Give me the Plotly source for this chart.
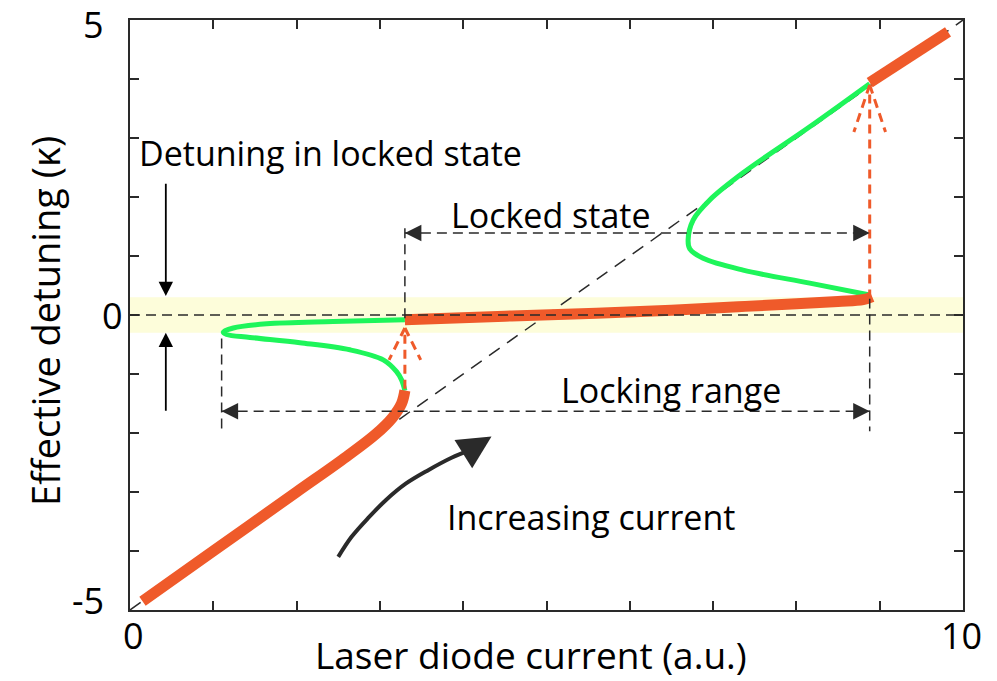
import plotly.graph_objects as go

# ---- data (laser diode current in a.u., effective detuning in units of kappa) ----
# free-running branch below the locking range
lower_x = [0.15, 1.00, 2.00, 2.60, 2.95, 3.15, 3.26, 3.30]
lower_y = [-4.85, -4.00, -3.00, -2.40, -2.02, -1.74, -1.50, -1.28]

# unstable / unlocked branch near the lower edge
green_low_x = [3.30, 3.26, 3.20, 3.04, 2.64, 2.04, 1.44, 1.16, 1.12, 1.24, 1.64, 2.44, 3.30]
green_low_y = [-1.28, -1.10, -0.96, -0.76, -0.59, -0.47, -0.38, -0.33, -0.29, -0.22, -0.15, -0.11, -0.08]

# locked branch
locked_x = [3.30, 4.50, 5.60, 6.50, 7.30, 8.00, 8.50, 8.80, 8.91]
locked_y = [-0.08, -0.02, 0.03, 0.08, 0.14, 0.19, 0.23, 0.26, 0.31]

# unstable / unlocked branch near the upper edge
green_up_x = [8.88, 8.16, 7.36, 6.88, 6.72, 6.70, 6.76, 6.96, 7.36, 8.16, 8.88]
green_up_y = [0.34, 0.54, 0.76, 0.96, 1.12, 1.27, 1.61, 1.95, 2.41, 3.19, 3.92]

# free-running branch above the locking range
upper_x = [8.88, 9.82]
upper_y = [3.94, 4.80]

# free-running reference line
free_x = [0, 10]
free_y = [-5, 5]

# "Increasing current" guide arrow
sweep_x = [2.50, 2.66, 2.86, 3.07, 3.31, 3.58, 3.86, 4.08]
sweep_y = [-4.10, -3.76, -3.44, -3.14, -2.86, -2.63, -2.42, -2.29]

x_ticks = list(range(0, 11))
x_labels = {0: "0", 10: "10"}
y_ticks = list(range(-5, 6))
y_labels = {-5: "-5", 0: "0", 5: "5"}

ORANGE = "#EF5A2A"
GREEN = "#1EF55A"
DARK = "#2a2a2a"
FONT = "Open Sans"

fig = go.Figure()

# locked detuning band
fig.add_shape(type="rect", x0=0, x1=10, y0=-0.3, y1=0.3, fillcolor="#FDFDDA",
              line_width=0, layer="below")

dash_style = dict(color=DARK, width=1.5, dash="10px,6px")


def dline(x0, y0, x1, y1):
    fig.add_shape(type="line", x0=x0, y0=y0, x1=x1, y1=y1, line=dash_style, layer="above")


# guide lines
dline(0, 0, 10, 0)
dline(3.30, 1.47, 3.30, -0.08)
dline(1.10, -0.40, 1.10, -1.95)
dline(8.88, 0.28, 8.88, -1.97)
dline(3.30, 1.39, 8.88, 1.39)
dline(1.10, -1.63, 8.88, -1.63)

fig.add_trace(go.Scatter(x=free_x, y=free_y, mode="lines",
                         line=dict(color=DARK, width=1.5, dash="13px,9px"),
                         hoverinfo="skip"))

# curves
fig.add_trace(go.Scatter(x=green_low_x, y=green_low_y, mode="lines", line_shape="spline",
                         line=dict(color=GREEN, width=5)))
fig.add_trace(go.Scatter(x=green_up_x, y=green_up_y, mode="lines", line_shape="spline",
                         line=dict(color=GREEN, width=5)))
fig.add_trace(go.Scatter(x=lower_x, y=lower_y, mode="lines", line_shape="spline",
                         line=dict(color=ORANGE, width=11)))
fig.add_trace(go.Scatter(x=locked_x, y=locked_y, mode="lines", line_shape="spline",
                         line=dict(color=ORANGE, width=11)))
fig.add_trace(go.Scatter(x=upper_x, y=upper_y, mode="lines",
                         line=dict(color=ORANGE, width=11)))

# jump arrows (dashed, orange)
odash = dict(color=ORANGE, width=3, dash="9px,6px")
for xs, y_bot, y_tip, y_arm, dx in [(3.30, -1.25, -0.22, -0.76, 0.19),
                                      (8.88, 0.28, 3.90, 3.10, 0.19)]:
    fig.add_shape(type="line", x0=xs, y0=y_bot, x1=xs, y1=y_tip, line=odash)
    fig.add_shape(type="line", x0=xs, y0=y_tip, x1=xs - dx, y1=y_arm, line=odash)
    fig.add_shape(type="line", x0=xs, y0=y_tip, x1=xs + dx, y1=y_arm, line=odash)

# sweep guide
fig.add_trace(go.Scatter(x=sweep_x, y=sweep_y, mode="lines", line_shape="spline",
                         line=dict(color=DARK, width=4)))


def head(x, y, ax, ay, size=2.2, width=1.5, color=DARK):
    fig.add_annotation(x=x, y=y, ax=ax, ay=ay, xref="x", yref="y", axref="x", ayref="y",
                       showarrow=True, arrowhead=2, arrowsize=size, arrowwidth=width,
                       arrowcolor=color, text="")


# arrowheads on the range markers
head(8.88, 1.39, 8.70, 1.39)
head(3.30, 1.39, 3.48, 1.39)
head(8.88, -1.63, 8.70, -1.63)
head(1.10, -1.63, 1.28, -1.63)

# locked detuning arrows
head(0.43, 0.32, 0.43, 2.25, size=1.6, width=1.8, color="black")
head(0.43, -0.30, 0.43, -1.65, size=1.6, width=1.8, color="black")

# sweep arrowhead
head(4.34, -2.06, 4.08, -2.29, size=1.9, width=3.5)

# labels
def label(text, x, y, size=34):
    fig.add_annotation(x=x, y=y, xref="x", yref="y", text=text, showarrow=False,
                       font=dict(family=FONT, size=size, color="black"))


label("Detuning in locked state", 2.41, 2.74)
label("Locked state", 5.05, 1.69)
label("Locking range", 6.49, -1.27)
label("Increasing current", 5.53, -3.42)

# tick labels, placed beside the axes
tick_font = dict(family=FONT, size=36, color="black")
for v, t in x_labels.items():
    fig.add_annotation(x=v, y=0, xref="x", yref="paper", yshift=-25,
                       xshift=3 if v == 0 else -2, xanchor="center", yanchor="middle",
                       text=t, showarrow=False, font=tick_font)
y_shift = {-5: (-24, 10), 0: (-5, 0), 5: (-24, -4)}
for v, t in y_labels.items():
    xs, ys = y_shift[v]
    fig.add_annotation(x=0, y=v, xref="paper", yref="y", xshift=xs, yshift=ys,
                       xanchor="right", yanchor="middle", text=t, showarrow=False,
                       font=tick_font)

fig.add_annotation(x=0.481, y=-0.0746, xref="paper", yref="paper",
                   xanchor="center", yanchor="middle", borderpad=0,
                   text="Laser diode current (a.u.)", showarrow=False,
                   font=dict(family=FONT, size=37, color="black"))
fig.add_annotation(x=-0.102, y=0.49, xref="paper", yref="paper", textangle=-90,
                   xanchor="center", yanchor="middle",
                   text="Effective detuning (κ)", showarrow=False,
                   font=dict(family=FONT, size=38, color="black"))

axis_common = dict(showgrid=False, zeroline=False, showline=True, linecolor=DARK,
                   linewidth=1.8, mirror="ticks", ticks="inside", ticklen=9,
                   tickwidth=1.5, tickcolor=DARK, showticklabels=False)

fig.update_xaxes(range=[0, 10], tickvals=x_ticks, **axis_common)
fig.update_yaxes(range=[-5, 5], tickvals=y_ticks, **axis_common)

fig.update_layout(width=997, height=681, margin=dict(l=130, r=34, t=20, b=71),
                  plot_bgcolor="white", paper_bgcolor="white", showlegend=False)

fig.write_html("out.html")
